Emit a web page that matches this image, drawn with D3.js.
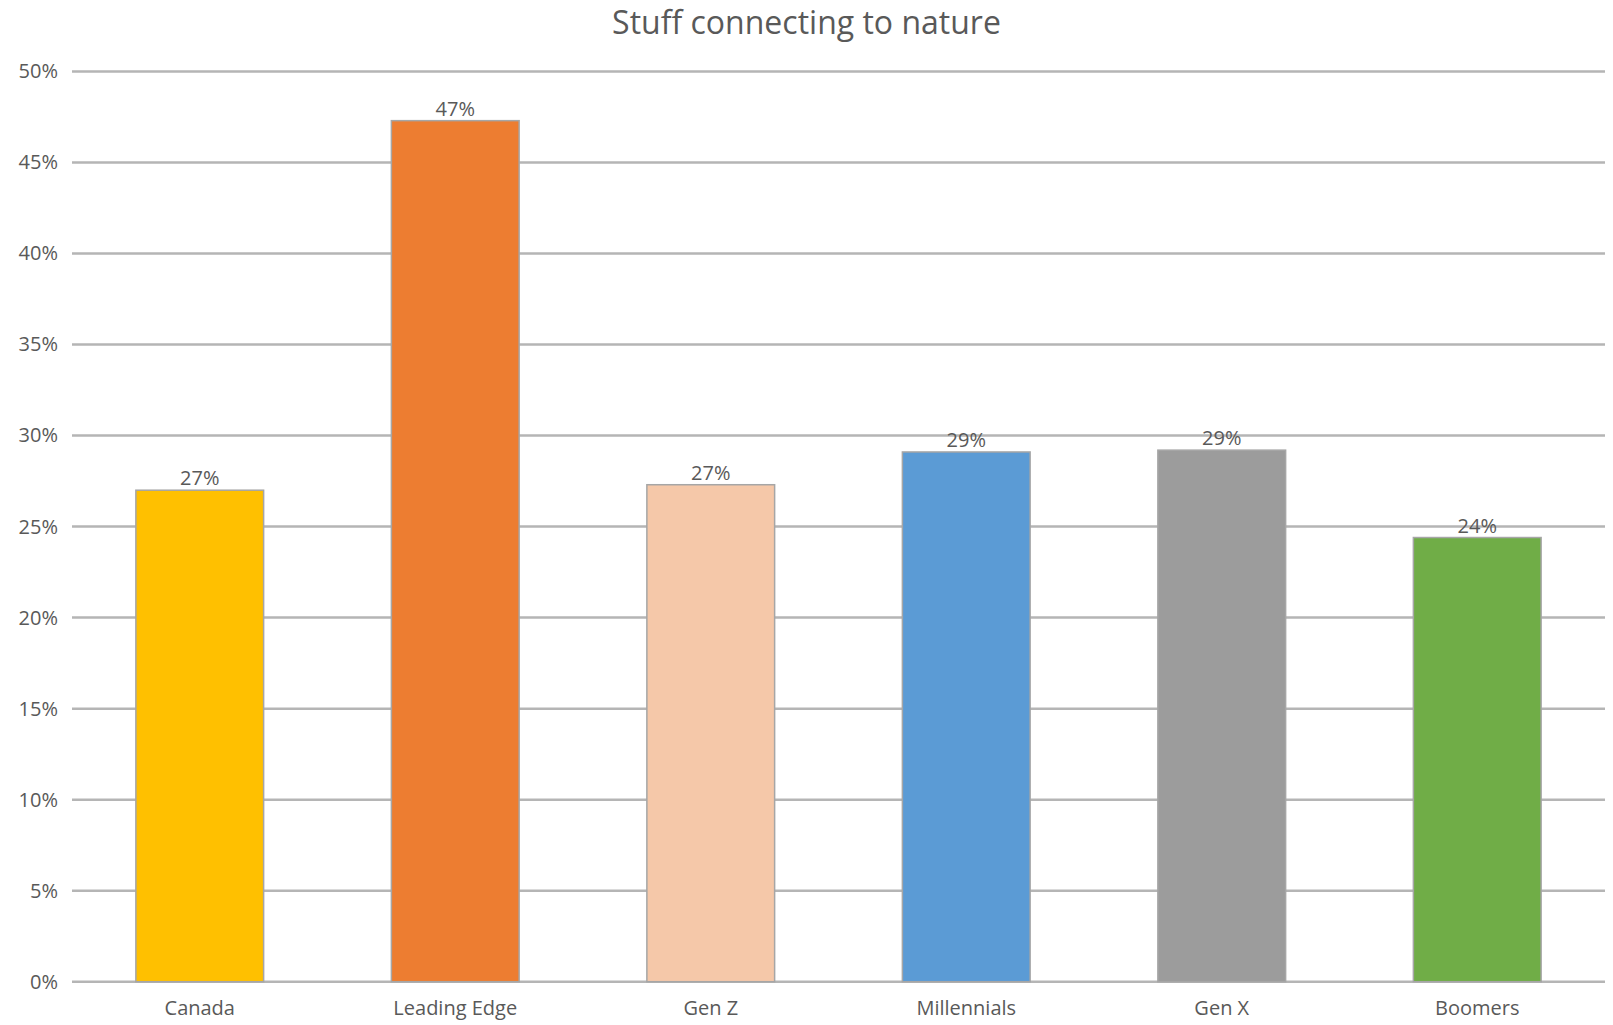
<!DOCTYPE html>
<html>
<head>
<meta charset="utf-8">
<script src="https://cdn.jsdelivr.net/npm/d3@7"></script>
<style>
  body { margin: 0; background: #fff; }
  text { font-family: "Open Sans", "Liberation Sans", sans-serif; fill: #595959; }
</style>
</head>
<body>
<div id="chart"></div>
<script>
// ==== data ====
const categories = ["Canada", "Leading Edge", "Gen Z", "Millennials", "Gen X", "Boomers"];
const values     = [27.0, 47.3, 27.3, 29.1, 29.2, 24.4];
const barColors  = ["#FFC000", "#ED7D31", "#F5C8A9", "#5B9BD5", "#9C9C9C", "#70AD47"];
const yTicks     = [0, 5, 10, 15, 20, 25, 30, 35, 40, 45, 50];
const title      = "Stuff connecting to nature";

const W = 1613, H = 1025;
const plot = { left: 72, right: 1605, top: 71.5, bottom: 981.7 };

const svg = d3.select("#chart")
  .append("svg")
    .attr("width", W)
    .attr("height", H);

// ==== scales ====
const x = d3.scaleBand()
  .domain(categories)
  .range([plot.left, plot.right])
  .paddingInner(0.5)
  .paddingOuter(0.25);

const y = d3.scaleLinear()
  .domain([0, 50])
  .range([plot.bottom, plot.top]);

// title
svg.append("text")
  .attr("x", W / 2)
  .attr("y", 34)
  .attr("text-anchor", "middle")
  .style("font-size", "32px")
  .text(title);

// gridlines
svg.append("g")
  .selectAll("line")
  .data(yTicks)
  .enter()
  .append("line")
    .attr("x1", plot.left)
    .attr("x2", plot.right)
    .attr("y1", d => y(d))
    .attr("y2", d => y(d))
    .attr("stroke", "#b5b5b5")
    .attr("stroke-width", 2.5);

// y axis labels
const yAxis = svg.append("g")
  .attr("transform", `translate(${plot.left}, 0)`)
  .call(d3.axisLeft(y).tickValues(yTicks).tickFormat(d => d + "%").tickSize(0).tickPadding(14));
yAxis.select(".domain").remove();
yAxis.selectAll("text")
  .style("font-size", "20px")
  .style("font-family", "'Open Sans', sans-serif")
  .attr("fill", "#595959");

// x axis labels
const xAxis = svg.append("g")
  .attr("transform", `translate(0, ${plot.bottom})`)
  .call(d3.axisBottom(x).tickSize(0).tickPadding(19));
xAxis.select(".domain").remove();
xAxis.selectAll("text")
  .style("font-size", "20px")
  .style("font-family", "'Open Sans', sans-serif")
  .attr("fill", "#595959");

// bars
svg.append("g")
  .selectAll("rect")
  .data(values)
  .enter()
  .append("rect")
    .attr("x", (d, i) => x(categories[i]))
    .attr("y", d => y(d))
    .attr("width", x.bandwidth())
    .attr("height", d => y(0) - y(d))
    .attr("fill", (d, i) => barColors[i])
    .attr("stroke", "#a6a6a6")
    .attr("stroke-width", 1.5);

// value labels
svg.append("g")
  .selectAll("text")
  .data(values)
  .enter()
  .append("text")
    .attr("x", (d, i) => x(categories[i]) + x.bandwidth() / 2)
    .attr("y", d => y(d) - 5)
    .attr("text-anchor", "middle")
    .style("font-size", "20px")
    .text(d => Math.round(d) + "%");
</script>
</body>
</html>
